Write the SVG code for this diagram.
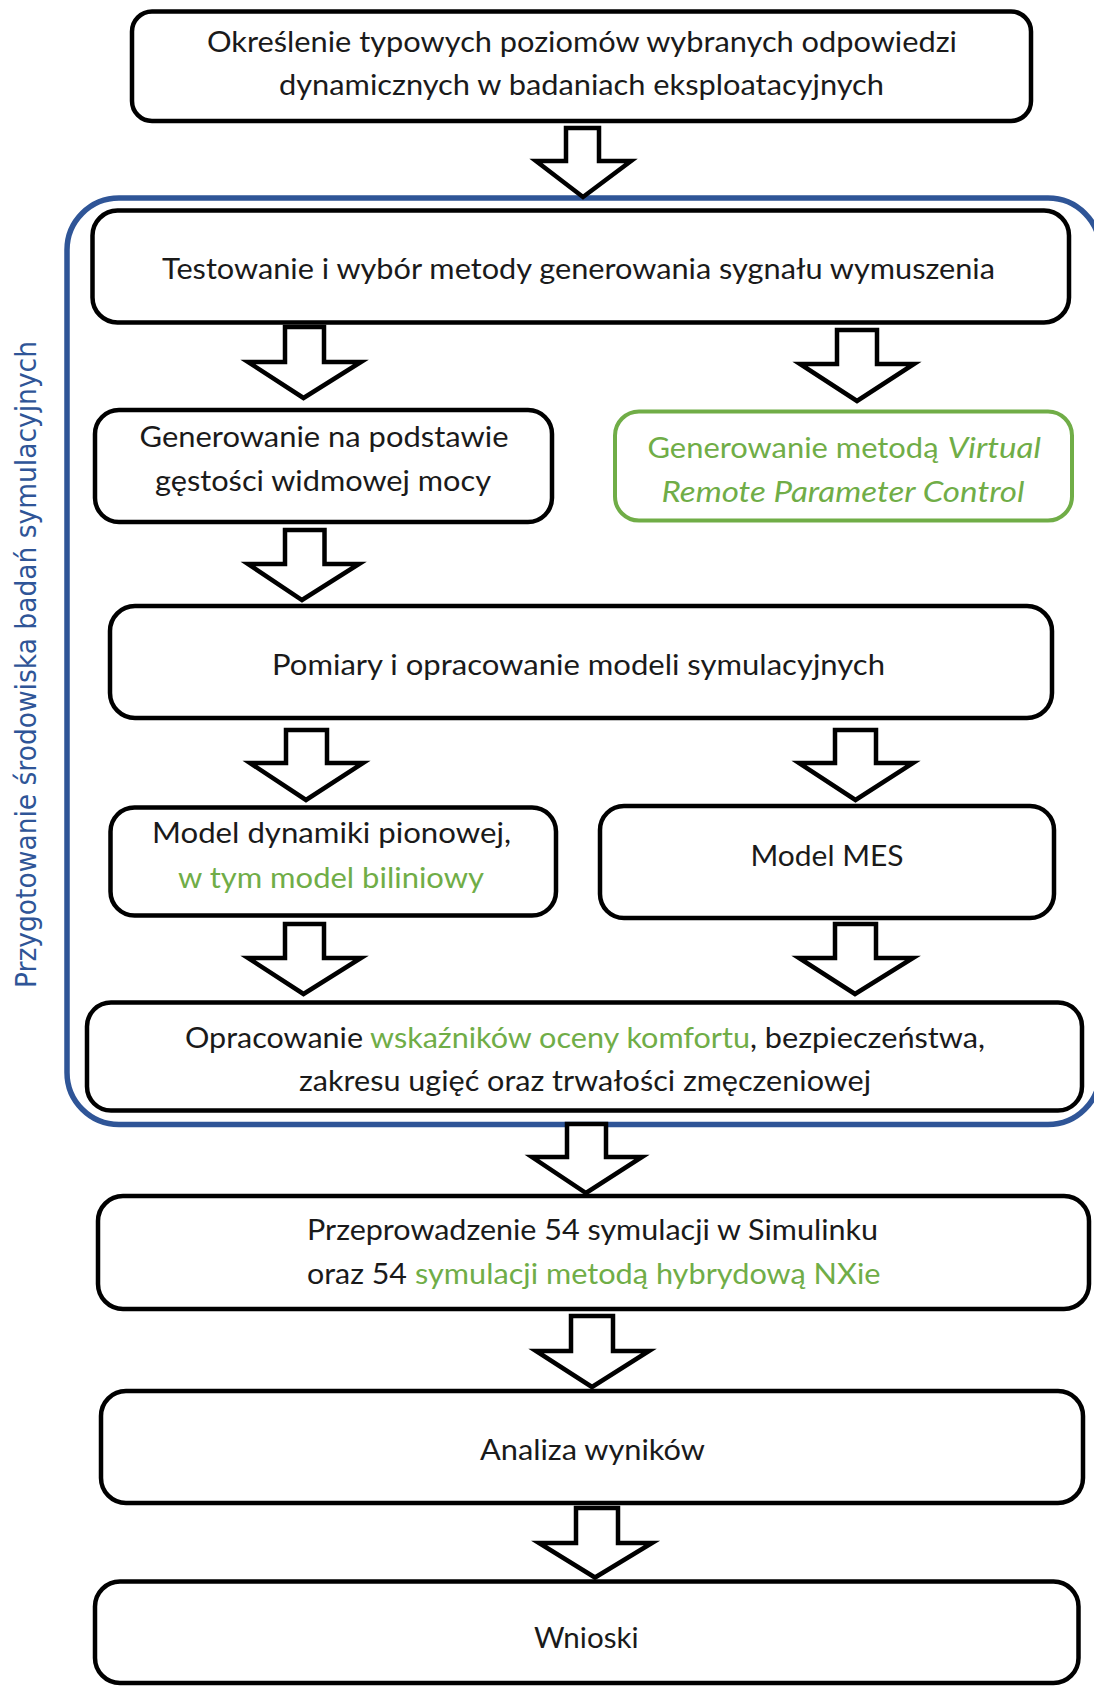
<svg xmlns="http://www.w3.org/2000/svg" width="1094" height="1686" viewBox="0 0 1094 1686">
<style>
.box{fill:#fff;stroke:#000;stroke-width:4.5}
.gbox{fill:#fff;stroke:#70AD47;stroke-width:4}
.t{font-family:Lato,"Open Sans","Liberation Sans",sans-serif;font-size:28px;fill:#1a1a1a}
.g{fill:#70AD47}
.i{font-style:italic}
.arrow{fill:#fff;stroke:#000;stroke-width:4.5;stroke-linejoin:miter}
.cont{fill:none;stroke:#2F5597;stroke-width:5.5}
.side{font-family:"DejaVu Sans","Liberation Sans",sans-serif;font-size:29px;fill:#2F5597}
</style>
<rect width="1094" height="1686" fill="#fff"/>

<g id="group-prep">
<rect class="cont" x="67" y="198" width="1033" height="926.5" rx="52"/>
<text class="side" transform="translate(36,988) rotate(-90)" textLength="647" lengthAdjust="spacingAndGlyphs">Przygotowanie środowiska badań symulacyjnych</text>
</g>

<g id="n1">
<rect class="box" x="132" y="11.5" width="899" height="109.5" rx="20"/>
<text class="t" x="207" y="52" textLength="750" lengthAdjust="spacingAndGlyphs">Określenie typowych poziomów wybranych odpowiedzi</text>
<text class="t" x="279" y="95" textLength="605" lengthAdjust="spacingAndGlyphs">dynamicznych w badaniach eksploatacyjnych</text>
</g>

<g id="n2">
<rect class="box" x="92.5" y="210.5" width="976.5" height="112" rx="25"/>
<text class="t" x="162" y="279" textLength="833" lengthAdjust="spacingAndGlyphs">Testowanie i wybór metody generowania sygnału wymuszenia</text>
</g>

<g id="n3a">
<rect class="box" x="95" y="410" width="457" height="112" rx="24"/>
<text class="t" x="139.5" y="447" textLength="369" lengthAdjust="spacingAndGlyphs">Generowanie na podstawie</text>
<text class="t" x="155" y="491" textLength="336" lengthAdjust="spacingAndGlyphs">gęstości widmowej mocy</text>
</g>

<g id="n3b">
<rect class="gbox" x="615" y="411.5" width="457" height="109" rx="24"/>
<text class="t g" x="647.5" y="458" textLength="291" lengthAdjust="spacingAndGlyphs">Generowanie metodą</text>
<text class="t g i" x="947.5" y="458" textLength="93.5" lengthAdjust="spacingAndGlyphs">Virtual</text>
<text class="t g i" x="661.5" y="502" textLength="363" lengthAdjust="spacingAndGlyphs">Remote Parameter Control</text>
</g>

<g id="n4">
<rect class="box" x="110" y="606" width="942" height="112" rx="25"/>
<text class="t" x="272" y="675" textLength="613" lengthAdjust="spacingAndGlyphs">Pomiary i opracowanie modeli symulacyjnych</text>
</g>

<g id="n5a">
<rect class="box" x="110.5" y="807.5" width="445.5" height="108" rx="24"/>
<text class="t" x="152" y="843" textLength="359" lengthAdjust="spacingAndGlyphs">Model dynamiki pionowej,</text>
<text class="t g" x="178" y="888" textLength="306" lengthAdjust="spacingAndGlyphs">w tym model biliniowy</text>
</g>

<g id="n5b">
<rect class="box" x="600" y="806" width="454" height="112" rx="24"/>
<text class="t" x="750.5" y="866" textLength="153" lengthAdjust="spacingAndGlyphs">Model MES</text>
</g>

<g id="n6">
<rect class="box" x="87" y="1002.5" width="995" height="108" rx="24"/>
<text class="t" x="185" y="1048" textLength="178" lengthAdjust="spacingAndGlyphs">Opracowanie</text>
<text class="t g" x="370" y="1048" textLength="380" lengthAdjust="spacingAndGlyphs">wskaźników oceny komfortu</text>
<text class="t" x="750" y="1048" textLength="235" lengthAdjust="spacingAndGlyphs">, bezpieczeństwa,</text>
<text class="t" x="299" y="1091" textLength="572" lengthAdjust="spacingAndGlyphs">zakresu ugięć oraz trwałości zmęczeniowej</text>
</g>

<g id="n7">
<rect class="box" x="98" y="1196" width="991" height="113" rx="25"/>
<text class="t" x="307" y="1240" textLength="571" lengthAdjust="spacingAndGlyphs">Przeprowadzenie 54 symulacji w Simulinku</text>
<text class="t" x="307" y="1284" textLength="100" lengthAdjust="spacingAndGlyphs">oraz 54</text>
<text class="t g" x="415" y="1284" textLength="465.5" lengthAdjust="spacingAndGlyphs">symulacji metodą hybrydową NXie</text>
</g>

<g id="n8">
<rect class="box" x="101" y="1391" width="982" height="112" rx="25"/>
<text class="t" x="480" y="1460" textLength="225" lengthAdjust="spacingAndGlyphs">Analiza wyników</text>
</g>

<g id="n9">
<rect class="box" x="95" y="1581.5" width="983.5" height="101.5" rx="25"/>
<text class="t" x="534" y="1648" textLength="104.5" lengthAdjust="spacingAndGlyphs">Wnioski</text>
</g>

<g id="connectors">
<path class="arrow" d="M566 128 H599 V161 H631 L583 197 L536 161 H566 Z"/>
<path class="arrow" d="M285 327 H324 V362 H361 L303.5 398 L248 362 H285 Z"/>
<path class="arrow" d="M837 330 H877 V364 H914 L857 401 L800 364 H837 Z"/>
<path class="arrow" d="M285 530 H324.5 V564 H359 L302 600 L248 564 H285 Z"/>
<path class="arrow" d="M286 730 H327 V763 H363 L306 800 L250 763 H286 Z"/>
<path class="arrow" d="M835 730 H876 V763 H913 L855.5 800 L799 763 H835 Z"/>
<path class="arrow" d="M285 924 H324 V958 H361 L303.5 994 L248 958 H285 Z"/>
<path class="arrow" d="M835 924 H876 V958 H913 L855 994 L799 958 H835 Z"/>
<path class="arrow" d="M567 1124 H606 V1157 H642 L586 1193 L532 1157 H567 Z"/>
<path class="arrow" d="M571 1316 H613 V1351 H649 L592 1387 L536 1351 H571 Z"/>
<path class="arrow" d="M576 1508 H618 V1543 H652 L595 1577.5 L539 1543 H576 Z"/>
</g>
</svg>
